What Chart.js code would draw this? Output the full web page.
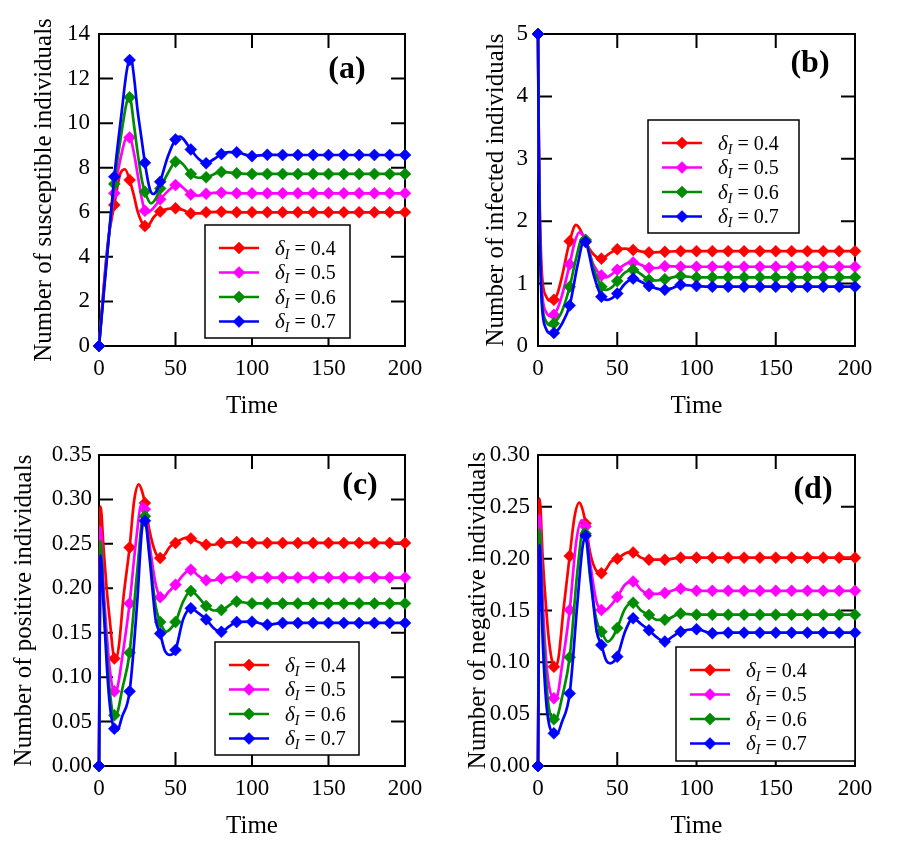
<!DOCTYPE html>
<html>
<head>
<meta charset="utf-8">
<script src="https://cdn.jsdelivr.net/npm/chart.js@4.4.1/dist/chart.umd.min.js"></script>
<style>
html,body{margin:0;padding:0;background:#fff;}
#wrap{position:relative;width:915px;height:857px;overflow:hidden;background:#fff;}
#wrap canvas{position:absolute;left:0;top:0;}
</style>
</head>
<body>
<div id="wrap">
<canvas id="cA" width="915" height="857"></canvas>
<canvas id="cB" width="915" height="857"></canvas>
<canvas id="cC" width="915" height="857"></canvas>
<canvas id="cD" width="915" height="857"></canvas>
</div>
<script>
// ---------------- DATA ----------------
const deltaValues = ['0.4', '0.5', '0.6', '0.7'];
const xTickValues = [0, 50, 100, 150, 200];

// (a) susceptible
const tS4 = [0,3,6,10,14,17,20,23,25,28,30,32,36,40,45,50,55,60,65,70,80,90,100,110,120,130,140,150,160,170,180,190,200];
const yS4 = [0,2.6,4.75,6.33,7.75,7.93,7.45,6.7,6.1,5.55,5.38,5.4,5.8,6.03,6.15,6.18,6.1,5.95,5.95,6.0,6.02,6.0,6.0,6.0,6.0,6.0,6.0,6.0,6.0,6.0,6.0,6.0,6.0];
const tS5 = [0,5,10,15,18,20,23,25,28,30,32,35,40,45,50,52,55,60,65,70,80,90,100,110,120,130,140,150,160,170,180,190,200];
const yS5 = [0,4.0,6.85,8.7,9.35,9.36,8.6,7.8,6.6,6.07,6.0,6.15,6.58,6.95,7.22,7.25,7.1,6.8,6.75,6.83,6.88,6.85,6.85,6.85,6.85,6.85,6.85,6.85,6.85,6.85,6.85,6.85,6.85];
const tS6 = [0,5,10,15,18,20,23,25,28,30,34,37,40,45,50,52,55,60,65,70,80,90,100,110,120,130,140,150,160,170,180,190,200];
const yS6 = [0,3.9,7.27,9.7,10.9,11.16,9.85,8.8,7.45,6.92,6.4,6.6,7.07,7.75,8.27,8.3,8.15,7.72,7.55,7.57,7.81,7.75,7.72,7.72,7.72,7.72,7.72,7.72,7.72,7.72,7.72,7.72,7.72];
const tS7 = [0,5,10,15,18,20,21,23,25,28,30,33,35.5,38,40,45,50,53,55,60,65,70,75,80,85,90,95,100,110,120,130,140,150,160,170,180,190,200];
const yS7 = [0,3.8,7.6,10.6,12.3,12.83,12.85,12.0,10.7,9.2,8.22,7.1,6.82,7.0,7.37,8.5,9.27,9.4,9.3,8.82,8.4,8.2,8.38,8.61,8.7,8.69,8.6,8.52,8.58,8.57,8.57,8.57,8.57,8.57,8.57,8.57,8.57,8.57];

// (b) infected
const tI4 = [0,0.5,1,2,3,5,8,10,12,15,20,24,27,30,35,40,45,50,55,60,70,80,90,100,110,120,130,140,150,160,170,180,190,200];
const yI4 = [5,3.4,2.4,1.4,1.0,0.8,0.72,0.74,0.82,1.1,1.68,1.94,1.85,1.67,1.47,1.40,1.48,1.55,1.56,1.54,1.50,1.51,1.52,1.52,1.52,1.52,1.52,1.52,1.52,1.52,1.52,1.52,1.52,1.52];
const tI5 = [0,0.5,1,2,3,5,8,10,12,15,20,23,26,30,35,40,43,46,50,55,58,60,65,70,75,80,90,100,110,120,130,140,150,160,170,180,190,200];
const yI5 = [5,3.3,2.2,1.15,0.75,0.55,0.48,0.50,0.58,0.8,1.31,1.65,1.82,1.70,1.3,1.13,1.10,1.14,1.22,1.31,1.34,1.34,1.3,1.25,1.25,1.28,1.27,1.27,1.27,1.27,1.27,1.27,1.27,1.27,1.27,1.27,1.27,1.27];
const tI6 = [0,0.5,1,2,3,5,8,10,12,15,20,24,28,30,35,40,43,47,50,55,60,65,70,75,80,90,100,110,120,130,140,150,160,170,180,190,200];
const yI6 = [5,3.2,2.1,1.0,0.6,0.4,0.33,0.36,0.42,0.55,0.95,1.4,1.73,1.70,1.25,0.95,0.9,0.95,1.04,1.18,1.22,1.15,1.06,1.05,1.07,1.12,1.10,1.10,1.10,1.10,1.10,1.10,1.10,1.10,1.10,1.10,1.10];
const tI7 = [0,0.5,1,2,3,5,8,10,12,15,20,25,29,30,35,40,44,47,50,55,60,65,70,75,80,85,90,100,110,120,130,140,150,160,170,180,190,200];
const yI7 = [5,3.1,2.0,0.9,0.5,0.28,0.2,0.21,0.24,0.35,0.65,1.3,1.68,1.67,1.15,0.79,0.74,0.77,0.84,1.0,1.08,1.03,0.96,0.92,0.90,0.93,0.98,0.96,0.95,0.95,0.95,0.95,0.95,0.95,0.95,0.95,0.95,0.95];

// (c) positive
const tP4 = [0,1,3,5,7,10,11,13,16,20,23,26,28,30,33,37,40,43,46,50,55,58,60,65,70,75,80,90,100,110,120,130,140,150,160,170,180,190,200];
const yP4 = [0,0.292,0.245,0.2,0.165,0.121,0.12,0.135,0.19,0.246,0.299,0.317,0.31,0.296,0.265,0.24,0.234,0.238,0.246,0.251,0.256,0.257,0.256,0.252,0.249,0.249,0.251,0.252,0.251,0.251,0.251,0.251,0.251,0.251,0.251,0.251,0.251,0.251,0.251];
const tP5 = [0,1,3,5,7,10,12,15,20,24,28,30,33,37,40,42,45,50,55,60,65,70,75,80,90,100,110,120,130,140,150,160,170,180,190,200];
const yP5 = [0,0.269,0.2,0.15,0.11,0.084,0.088,0.12,0.183,0.25,0.296,0.289,0.25,0.205,0.19,0.189,0.195,0.204,0.215,0.221,0.214,0.209,0.209,0.211,0.213,0.212,0.212,0.212,0.212,0.212,0.212,0.212,0.212,0.212,0.212,0.212];
const tP6 = [0,1,3,5,7,10,12,15,20,25,29,30,33,37,40,44,47,50,55,60,65,70,75,80,90,100,110,120,130,140,150,160,170,180,190,200];
const yP6 = [0,0.253,0.19,0.13,0.085,0.057,0.06,0.085,0.1275,0.22,0.282,0.281,0.24,0.18,0.162,0.151,0.155,0.162,0.185,0.197,0.19,0.18,0.175,0.1755,0.185,0.183,0.183,0.183,0.183,0.183,0.183,0.183,0.183,0.183,0.183,0.183];
const tP7 = [0,1,3,5,7,10,12,15,20,25,28,30,33,37,40,43,46.5,50,55,60,65,70,75,80,85,90,100,110,120,130,140,150,160,170,180,190,200];
const yP7 = [0,0.237,0.18,0.116,0.07,0.042,0.040,0.055,0.084,0.185,0.265,0.276,0.235,0.165,0.149,0.13,0.125,0.1305,0.165,0.1775,0.172,0.165,0.155,0.151,0.157,0.162,0.1624,0.159,0.161,0.161,0.161,0.161,0.161,0.161,0.161,0.161,0.161];

// (d) negative
const tN4 = [0,1,3,5,7,10,11,13,16,20,23,26,28,30,33,37,40,43,46,50,55,57,60,65,70,75,80,90,100,110,120,130,140,150,160,170,180,190,200];
const yN4 = [0,0.258,0.2,0.155,0.12,0.0958,0.095,0.105,0.15,0.2026,0.24,0.254,0.248,0.234,0.205,0.188,0.186,0.19,0.197,0.2,0.205,0.206,0.206,0.201,0.199,0.199,0.199,0.201,0.201,0.201,0.201,0.201,0.201,0.201,0.201,0.201,0.201,0.201,0.201];
const tN5 = [0,1,3,5,7,10,12,15,20,24,27.5,30,33,37,40,42,46,50,55,60,65,70,75,80,90,100,110,120,130,140,150,160,170,180,190,200];
const yN5 = [0,0.242,0.16,0.105,0.077,0.0653,0.067,0.095,0.1505,0.215,0.237,0.231,0.195,0.158,0.1505,0.15,0.155,0.163,0.175,0.178,0.17,0.166,0.166,0.167,0.171,0.169,0.169,0.169,0.169,0.169,0.169,0.169,0.169,0.169,0.169,0.169];
const tN6 = [0,1,3,5,7,10,12,15,20,25,28.5,30,33,37,40,44,47,50,55,60,65,70,75,80,90,100,110,120,130,140,150,160,170,180,190,200];
const yN6 = [0,0.228,0.14,0.085,0.055,0.045,0.047,0.065,0.105,0.19,0.228,0.224,0.18,0.14,0.1296,0.12,0.124,0.133,0.152,0.1575,0.15,0.1457,0.141,0.141,0.147,0.146,0.146,0.146,0.146,0.146,0.146,0.146,0.146,0.146,0.146,0.146];
const tN7 = [0,1,3,5,7,10,12,15,20,25,28,30,33,37,40,43,45.6,48,50,55,60,65,70,75,80,85,90,100,110,120,130,140,150,160,170,180,190,200];
const yN7 = [0,0.213,0.12,0.065,0.04,0.0315,0.031,0.042,0.07,0.16,0.21,0.222,0.185,0.13,0.1167,0.102,0.099,0.101,0.1055,0.13,0.1425,0.137,0.131,0.124,0.12,0.125,0.1296,0.132,0.128,0.1286,0.1286,0.1286,0.1286,0.1286,0.1286,0.1286,0.1286,0.1286];

// ---------------- STYLE ----------------
const COLORS = ['#ff0000', '#ff00ff', '#008c00', '#0000ff'];
const FAMILY = "'Liberation Serif', 'Times New Roman', serif";
const tickFont = {family: FAMILY, size: 23};
const titleFont = {family: FAMILY, size: 25};
const LINE_W = 2.7;
const MARK_R = 6;

function diamond(ctx, x, y, r, color) {
  ctx.beginPath();
  ctx.moveTo(x - r, y); ctx.lineTo(x, y - r); ctx.lineTo(x + r, y); ctx.lineTo(x, y + r);
  ctx.closePath();
  ctx.fillStyle = color; ctx.fill();
  ctx.lineWidth = 0.5; ctx.strokeStyle = color; ctx.stroke();
}

const framePlugin = {
  id: 'frame',
  beforeDatasetsDraw(chart) {
    const {ctx, chartArea: a, scales: {x, y}} = chart;
    ctx.save();
    ctx.strokeStyle = '#000';
    ctx.lineWidth = 2;
    ctx.strokeRect(a.left, a.top, a.right - a.left, a.bottom - a.top);
    const L = 14;
    ctx.beginPath();
    x.ticks.forEach(t => {
      const px = x.getPixelForValue(t.value);
      if (px > a.left + 2 && px < a.right - 2) {
        ctx.moveTo(px, a.bottom); ctx.lineTo(px, a.bottom - L);
        ctx.moveTo(px, a.top); ctx.lineTo(px, a.top + L);
      }
    });
    y.ticks.forEach(t => {
      const py = y.getPixelForValue(t.value);
      if (py > a.top + 2 && py < a.bottom - 2) {
        ctx.moveTo(a.left, py); ctx.lineTo(a.left + L, py);
        ctx.moveTo(a.right, py); ctx.lineTo(a.right - L, py);
      }
    });
    ctx.stroke();
    ctx.restore();
  }
};

function makeDeco(deco) {
  return {
    id: 'deco',
    afterDraw(chart) {
      const ctx = chart.ctx;
      ctx.save();
      // panel letter
      ctx.font = 'bold 32px ' + FAMILY;
      ctx.fillStyle = '#000';
      ctx.textAlign = 'center';
      ctx.textBaseline = 'alphabetic';
      ctx.fillText(deco.letter, deco.lx, deco.ly);
      // legend
      const L = deco.legend;
      ctx.fillStyle = '#fff';
      ctx.fillRect(L.x, L.y, L.w, L.h);
      ctx.strokeStyle = '#000';
      ctx.lineWidth = 1.5;
      ctx.strokeRect(L.x, L.y, L.w, L.h);
      chart.data.datasets.forEach((ds, i) => {
        const cy = L.y + 23 + i * 24.5;
        ctx.strokeStyle = ds.borderColor;
        ctx.lineWidth = LINE_W;
        ctx.beginPath();
        ctx.moveTo(L.x + 14, cy); ctx.lineTo(L.x + 54, cy);
        ctx.stroke();
        diamond(ctx, L.x + 34, cy, MARK_R, ds.borderColor);
        ctx.fillStyle = '#000';
        ctx.textAlign = 'left';
        let tx = L.x + 70;
        const by = cy + 6.5;
        ctx.font = 'italic 21px ' + FAMILY;
        ctx.fillText('δ', tx, by);
        tx += ctx.measureText('δ').width;
        ctx.font = 'italic 14px ' + FAMILY;
        ctx.fillText('I', tx, by + 4);
        tx += ctx.measureText('I').width;
        ctx.font = '20px ' + FAMILY;
        ctx.fillText(' = ' + deltaValues[i], tx, by);
      });
      ctx.restore();
    }
  };
}

function makeChart(id, p) {
  const datasets = p.series.map((s, i) => ({
    label: 'δI = ' + deltaValues[i],
    data: s[0].map((t, k) => ({x: t, y: s[1][k]})),
    borderColor: COLORS[i],
    backgroundColor: COLORS[i],
    pointBackgroundColor: COLORS[i],
    pointBorderColor: COLORS[i],
    borderWidth: LINE_W,
    pointStyle: 'rectRot',
    pointRadius: c => (c.raw && c.raw.x % 10 === 0) ? MARK_R : 0,
    pointBorderWidth: 0.5,
    cubicInterpolationMode: 'monotone',
    clip: false,
    order: 3 - i
  }));
  return new Chart(document.getElementById(id), {
    type: 'line',
    data: {datasets},
    options: {
      responsive: false,
      animation: false,
      devicePixelRatio: 1,
      events: [],
      layout: {padding: p.pad},
      plugins: {legend: {display: false}, tooltip: {enabled: false}},
      scales: {
        x: {
          type: 'linear', position: 'bottom', min: 0, max: 200,
          afterFit: s => { s.height = 75; },
          afterBuildTicks: s => { s.ticks = xTickValues.map(v => ({value: v})); },
          ticks: {font: tickFont, color: '#000', padding: 9, maxRotation: 0, autoSkip: false},
          grid: {display: false, drawTicks: false},
          border: {display: false},
          title: {display: true, text: 'Time', font: titleFont, color: '#000', padding: 0}
        },
        y: {
          type: 'linear', position: 'left', min: 0, max: p.yMax,
          afterFit: s => { s.width = p.yW; },
          afterBuildTicks: s => { s.ticks = p.yTicks.map(v => ({value: v})); },
          ticks: {font: tickFont, color: '#000', padding: p.yPad, autoSkip: false,
                  callback: v => v.toFixed(p.dec)},
          grid: {display: false, drawTicks: false},
          border: {display: false},
          title: {display: true, text: p.yTitle, font: titleFont, color: '#000', padding: 0}
        }
      }
    },
    plugins: [framePlugin, makeDeco(p.deco)]
  });
}

const yTicksA = [0, 2, 4, 6, 8, 10, 12, 14];
const yTicksB = [0, 1, 2, 3, 4, 5];
const yTicksC = [0, 0.05, 0.10, 0.15, 0.20, 0.25, 0.30, 0.35];
const yTicksD = [0, 0.05, 0.10, 0.15, 0.20, 0.25, 0.30];

makeChart('cA', {
  series: [[tS4, yS4], [tS5, yS5], [tS6, yS6], [tS7, yS7]],
  pad: {left: 29, top: 34, right: 510, bottom: 436},
  yW: 70, yPad: 9, yMax: 14, yTicks: yTicksA, dec: 0,
  yTitle: 'Number of susceptible individuals',
  deco: {letter: '(a)', lx: 347, ly: 78, legend: {x: 205, y: 225, w: 145, h: 113}}
});
makeChart('cB', {
  series: [[tI4, yI4], [tI5, yI5], [tI6, yI6], [tI7, yI7]],
  pad: {left: 481, top: 34, right: 60, bottom: 436},
  yW: 57, yPad: 10, yMax: 5, yTicks: yTicksB, dec: 0,
  yTitle: 'Number of infected individuals',
  deco: {letter: '(b)', lx: 810, ly: 72, legend: {x: 648, y: 120, w: 151, h: 113}}
});
makeChart('cC', {
  series: [[tP4, yP4], [tP5, yP5], [tP6, yP6], [tP7, yP7]],
  pad: {left: 9, top: 455, right: 510, bottom: 16},
  yW: 90, yPad: 7, yMax: 0.35, yTicks: yTicksC, dec: 2,
  yTitle: 'Number of positive individuals',
  deco: {letter: '(c)', lx: 360, ly: 494, legend: {x: 215, y: 642, w: 144, h: 113}}
});
makeChart('cD', {
  series: [[tN4, yN4], [tN5, yN5], [tN6, yN6], [tN7, yN7]],
  pad: {left: 463, top: 455, right: 60, bottom: 16},
  yW: 75, yPad: 8, yMax: 0.30, yTicks: yTicksD, dec: 2,
  yTitle: 'Number of negative individuals',
  deco: {letter: '(d)', lx: 813, ly: 498, legend: {x: 676, y: 647, w: 179, h: 114}}
});
</script>
</body>
</html>
